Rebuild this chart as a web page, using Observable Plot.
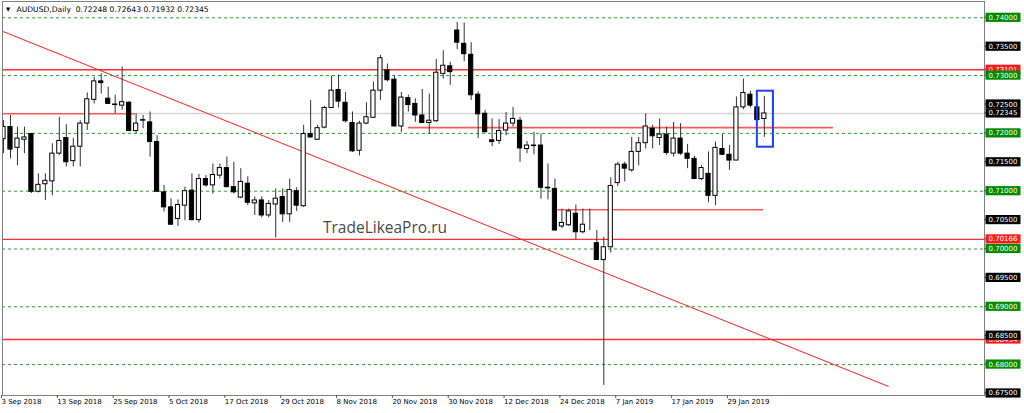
<!DOCTYPE html>
<html><head><meta charset="utf-8">
<script src="https://cdn.jsdelivr.net/npm/d3@7"></script>
<script src="https://cdn.jsdelivr.net/npm/@observablehq/plot@0.6"></script>
<style>
body{margin:0;background:#fff;}
#wrap{position:relative;width:1024px;height:413px;overflow:hidden;}
</style></head><body><div id="wrap"></div>
<script>
// ---------- data ----------
const symbol = "AUDUSD,Daily";
const lastQuote = [0.72248, 0.72643, 0.71932, 0.72345];
const watermark = "TradeLikeaPro.ru";

const opens = [0.7190,0.7211,0.7175,0.7189,0.7199,0.7099,0.7112,0.7117,0.7165,0.7192,
0.7152,0.7177,0.7217,0.7258,0.7290,0.7260,0.7250,0.7248,0.7253,0.7204,
0.7222,0.7219,0.7185,0.7098,0.7072,0.7052,0.7075,0.7101,0.7050,0.7121,
0.7110,0.7127,0.7140,0.7107,0.7089,0.7113,0.7079,0.7084,0.7058,0.7077,
0.7090,0.7060,0.7100,0.7074,0.7199,0.7189,0.7210,0.7244,0.7275,0.7253,
0.7218,0.7170,0.7217,0.7227,0.7274,0.7309,0.7293,0.7212,0.7261,0.7251,
0.7231,0.7218,0.7221,0.7303,0.7316,0.7378,0.7355,0.7336,0.7267,0.7234,
0.7188,0.7187,0.7205,0.7217,0.7222,0.7173,0.7179,0.7179,0.7106,0.7104,
0.7039,0.7041,0.7061,0.7029,0.7042,0.7010,0.6981,0.7003,0.7114,0.7146,
0.7136,0.7168,0.7183,0.7208,0.7192,0.7198,0.7165,0.7191,0.7165,0.7156,
0.7121,0.7130,0.7092,0.7173,0.7163,0.7153,0.7245,0.7267,0.7245,0.72248];
const highs = [0.7222,0.7231,0.7211,0.7211,0.7200,0.7130,0.7130,0.7182,0.7228,0.7215,
0.7191,0.7222,0.7270,0.7297,0.7303,0.7280,0.7266,0.7315,0.7255,0.7234,
0.7231,0.7237,0.7196,0.7110,0.7087,0.7085,0.7107,0.7130,0.7129,0.7127,
0.7147,0.7147,0.7159,0.7150,0.7139,0.7125,0.7090,0.7090,0.7084,0.7104,
0.7104,0.7121,0.7106,0.7214,0.7257,0.7214,0.7247,0.7299,0.7301,0.7271,
0.7237,0.7221,0.7253,0.7289,0.7335,0.7320,0.7300,0.7271,0.7266,0.7260,
0.7276,0.7268,0.7328,0.7343,0.7323,0.7392,0.7391,0.7357,0.7272,0.7240,
0.7225,0.7224,0.7236,0.7245,0.7228,0.7186,0.7202,0.7199,0.7147,0.7121,
0.7069,0.7069,0.7076,0.7069,0.7069,0.7032,0.7020,0.7123,0.7150,0.7150,
0.7193,0.7193,0.7234,0.7214,0.7225,0.7211,0.7219,0.7217,0.7181,0.7160,
0.7144,0.7168,0.7185,0.7198,0.7179,0.7263,0.7294,0.7273,0.7251,0.72643];
const lows = [0.7165,0.7156,0.7144,0.7165,0.7096,0.7097,0.7084,0.7092,0.7162,0.7142,
0.7142,0.7142,0.7205,0.7251,0.7268,0.7250,0.7234,0.7240,0.7203,0.7200,
0.7208,0.7159,0.7099,0.7064,0.7041,0.7039,0.7049,0.7048,0.7045,0.7107,
0.7095,0.7121,0.7106,0.7095,0.7087,0.7075,0.7058,0.7054,0.7054,0.7019,
0.7046,0.7046,0.7065,0.7072,0.7192,0.7188,0.7208,0.7243,0.7244,0.7218,
0.7167,0.7161,0.7215,0.7226,0.7257,0.7289,0.7211,0.7201,0.7237,0.7219,
0.7217,0.7199,0.7219,0.7294,0.7283,0.7345,0.7324,0.7257,0.7191,0.7201,
0.7177,0.7181,0.7196,0.7211,0.7150,0.7165,0.7163,0.7086,0.7085,0.7031,
0.7035,0.7039,0.7016,0.7026,0.7032,0.6980,0.6764,0.6993,0.7108,0.7116,
0.7133,0.7144,0.7173,0.7173,0.7179,0.7162,0.7159,0.7162,0.7139,0.7120,
0.7118,0.7080,0.7075,0.7162,0.7136,0.7153,0.7241,0.7244,0.7222,0.71932];
const closes = [0.7211,0.7172,0.7191,0.7193,0.7099,0.7111,0.7118,0.7165,0.7187,0.7150,
0.7177,0.7217,0.7259,0.7290,0.7287,0.7251,0.7249,0.7254,0.7204,0.7217,
0.7223,0.7185,0.7099,0.7072,0.7042,0.7076,0.7100,0.7050,0.7121,0.7110,
0.7128,0.7140,0.7107,0.7098,0.7116,0.7080,0.7084,0.7058,0.7078,0.7087,
0.7060,0.7102,0.7075,0.7199,0.7193,0.7209,0.7244,0.7274,0.7255,0.7221,
0.7169,0.7217,0.7228,0.7274,0.7330,0.7292,0.7212,0.7262,0.7249,0.7231,
0.7218,0.7222,0.7305,0.7317,0.7306,0.7357,0.7337,0.7266,0.7233,0.7202,
0.7185,0.7204,0.7217,0.7225,0.7174,0.7179,0.7178,0.7106,0.7105,0.7032,
0.7045,0.7065,0.7029,0.7042,0.7042,0.6981,0.7003,0.7109,0.7146,0.7139,
0.7168,0.7183,0.7212,0.7195,0.7198,0.7166,0.7191,0.7165,0.7156,0.7121,
0.7140,0.7092,0.7175,0.7163,0.7153,0.7245,0.7270,0.7248,0.7223,0.72345];

const tickIndex = [0,8,16,24,32,40,48,56,64,72,80,88,96,104];
const tickLabels = ["3 Sep 2018","13 Sep 2018","25 Sep 2018","5 Oct 2018","17 Oct 2018","29 Oct 2018",
  "8 Nov 2018","20 Nov 2018","30 Nov 2018","12 Dec 2018","24 Dec 2018","7 Jan 2019","17 Jan 2019","29 Jan 2019"];

const gridLevels = [0.74,0.73,0.72,0.71,0.70,0.69,0.68];
const midLevels = [0.735,0.725,0.715,0.705,0.695,0.685,0.675];
const bidLevel = 0.72345;
const redLevels = [0.73101,0.70166,0.68434];
// horizontal red segments: level, start bar, end bar
const segLevels = [0.7234, 0.7210, 0.7068];
const segStart = [-1, 58.0, 79.1];
const segEnd = [18.9, 118.9, 108.9];
// falling trend line: two anchor points (bar, price)
const trendBars = [-0.43, 126.8];
const trendPrices = [0.7378, 0.67621];
// highlight box around the last candle
const boxBars = [108.0, 110.3];
const boxPrices = [0.71761, 0.72730];

// ---------- build ----------
const candles = opens.map((o,i)=>({i, o, h:highs[i], l:lows[i], c:closes[i]}));
const segs = segLevels.map((v,k)=>({v, a:segStart[k], b:segEnd[k]}));
const trend = [{x1:trendBars[0], y1:trendPrices[0], x2:trendBars[1], y2:trendPrices[1]}];
const box = [{x1:boxBars[0], x2:boxBars[1], y1:boxPrices[0], y2:boxPrices[1]}];
const F = "DejaVu Sans";

const plot = Plot.plot({
  width:1024, height:413,
  marginLeft:2, marginRight:40, marginTop:1, marginBottom:18,
  style:{fontFamily:F, background:"#fff", overflow:"visible"},
  x:{type:"linear", domain:[-0.143,140.54]},
  y:{domain:[0.67465,0.74282], axis:null},
  marks:[
    Plot.ruleY(gridLevels,{stroke:"#2f9a2f", strokeDasharray:"3,3", strokeWidth:1}),
    Plot.ruleY([bidLevel],{stroke:"#d4d4d4", strokeWidth:1.5}),
    Plot.ruleY(redLevels,{stroke:"#ff3030", strokeWidth:1.3}),
    Plot.ruleY(segs,{y:"v", x1:"a", x2:"b", stroke:"#ff5a5a", strokeWidth:1.6, clip:true}),
    Plot.link(trend,{x1:"x1",y1:"y1",x2:"x2",y2:"y2", stroke:"#ff2020", strokeWidth:1, clip:true}),
    Plot.ruleX(candles,{x:"i", y1:"l", y2:"h", stroke:"#333", strokeWidth:1, clip:true}),
    Plot.rect(candles,{x1:d=>d.i-0.3, x2:d=>d.i+0.3, y1:"o", y2:"c",
      fill:d=>d.c>=d.o?"#fff":"#000", stroke:"#000", strokeWidth:1, clip:true}),
    Plot.rect(box,{x1:"x1",x2:"x2",y1:"y1",y2:"y2", fill:"none", stroke:"#1f3fff", strokeWidth:2}),
    Plot.frame({stroke:"#808080"}),
    Plot.axisX(tickIndex,{anchor:"bottom", tickSize:3, tickPadding:1,
      tickFormat:d=>tickLabels[tickIndex.indexOf(d)], textAnchor:"start", dx:-2,
      fontSize:7, fill:"#000", stroke:"#555"})
  ]
});
document.getElementById("wrap").appendChild(plot);

// ---------- right price labels, header and watermark via d3 + Plot scales ----------
const svg = d3.select(plot);
const ys = plot.scale("y");
const xs = plot.scale("x");
const xr = xs.range[1];
const lab = [];
redLevels.forEach(v=>lab.push({v, bg:"#ff1a1a"}));
midLevels.forEach(v=>lab.push({v, bg:"#000"}));
lab.push({v:bidLevel, bg:"#000"});
gridLevels.forEach(v=>lab.push({v, bg:"#008a00"}));
const g = svg.append("g").attr("text-anchor","start");
lab.forEach(d=>{
  const y = ys.apply(d.v);
  g.append("line").attr("x1",xr).attr("x2",xr+3).attr("y1",y).attr("y2",y).attr("stroke","#555");
  g.append("rect").attr("x",xr+1.5).attr("y",y-4.6).attr("width",35).attr("height",9.2)
    .attr("fill",d.bg);
  g.append("text").attr("x",xr+4.5).attr("y",y).attr("dy","0.36em").attr("text-anchor","start")
    .attr("fill","#fff").attr("font-size",7).attr("font-family",F).text(d.v.toFixed(5));
});
// header
svg.append("text").attr("x",6).attr("y",9).attr("dy","0.35em").attr("font-size",5.5).attr("text-anchor","start")
  .attr("font-family",F).attr("fill","#000").text("▼");
svg.append("text").attr("x",16.5).attr("y",9).attr("dy","0.35em").attr("font-size",7.6).attr("text-anchor","start")
  .attr("font-family",F).attr("fill","#000").attr("xml:space","preserve").style("white-space","pre")
  .text(symbol + "  " + lastQuote.map(v=>v.toFixed(5)).join(" "));
// watermark
svg.append("text").attr("x",385).attr("y",228).attr("dy","0.35em").attr("text-anchor","middle")
  .attr("font-size",15.5).attr("font-family","Open Sans").attr("fill","#4a4a4a").text(watermark);
</script></body></html>
